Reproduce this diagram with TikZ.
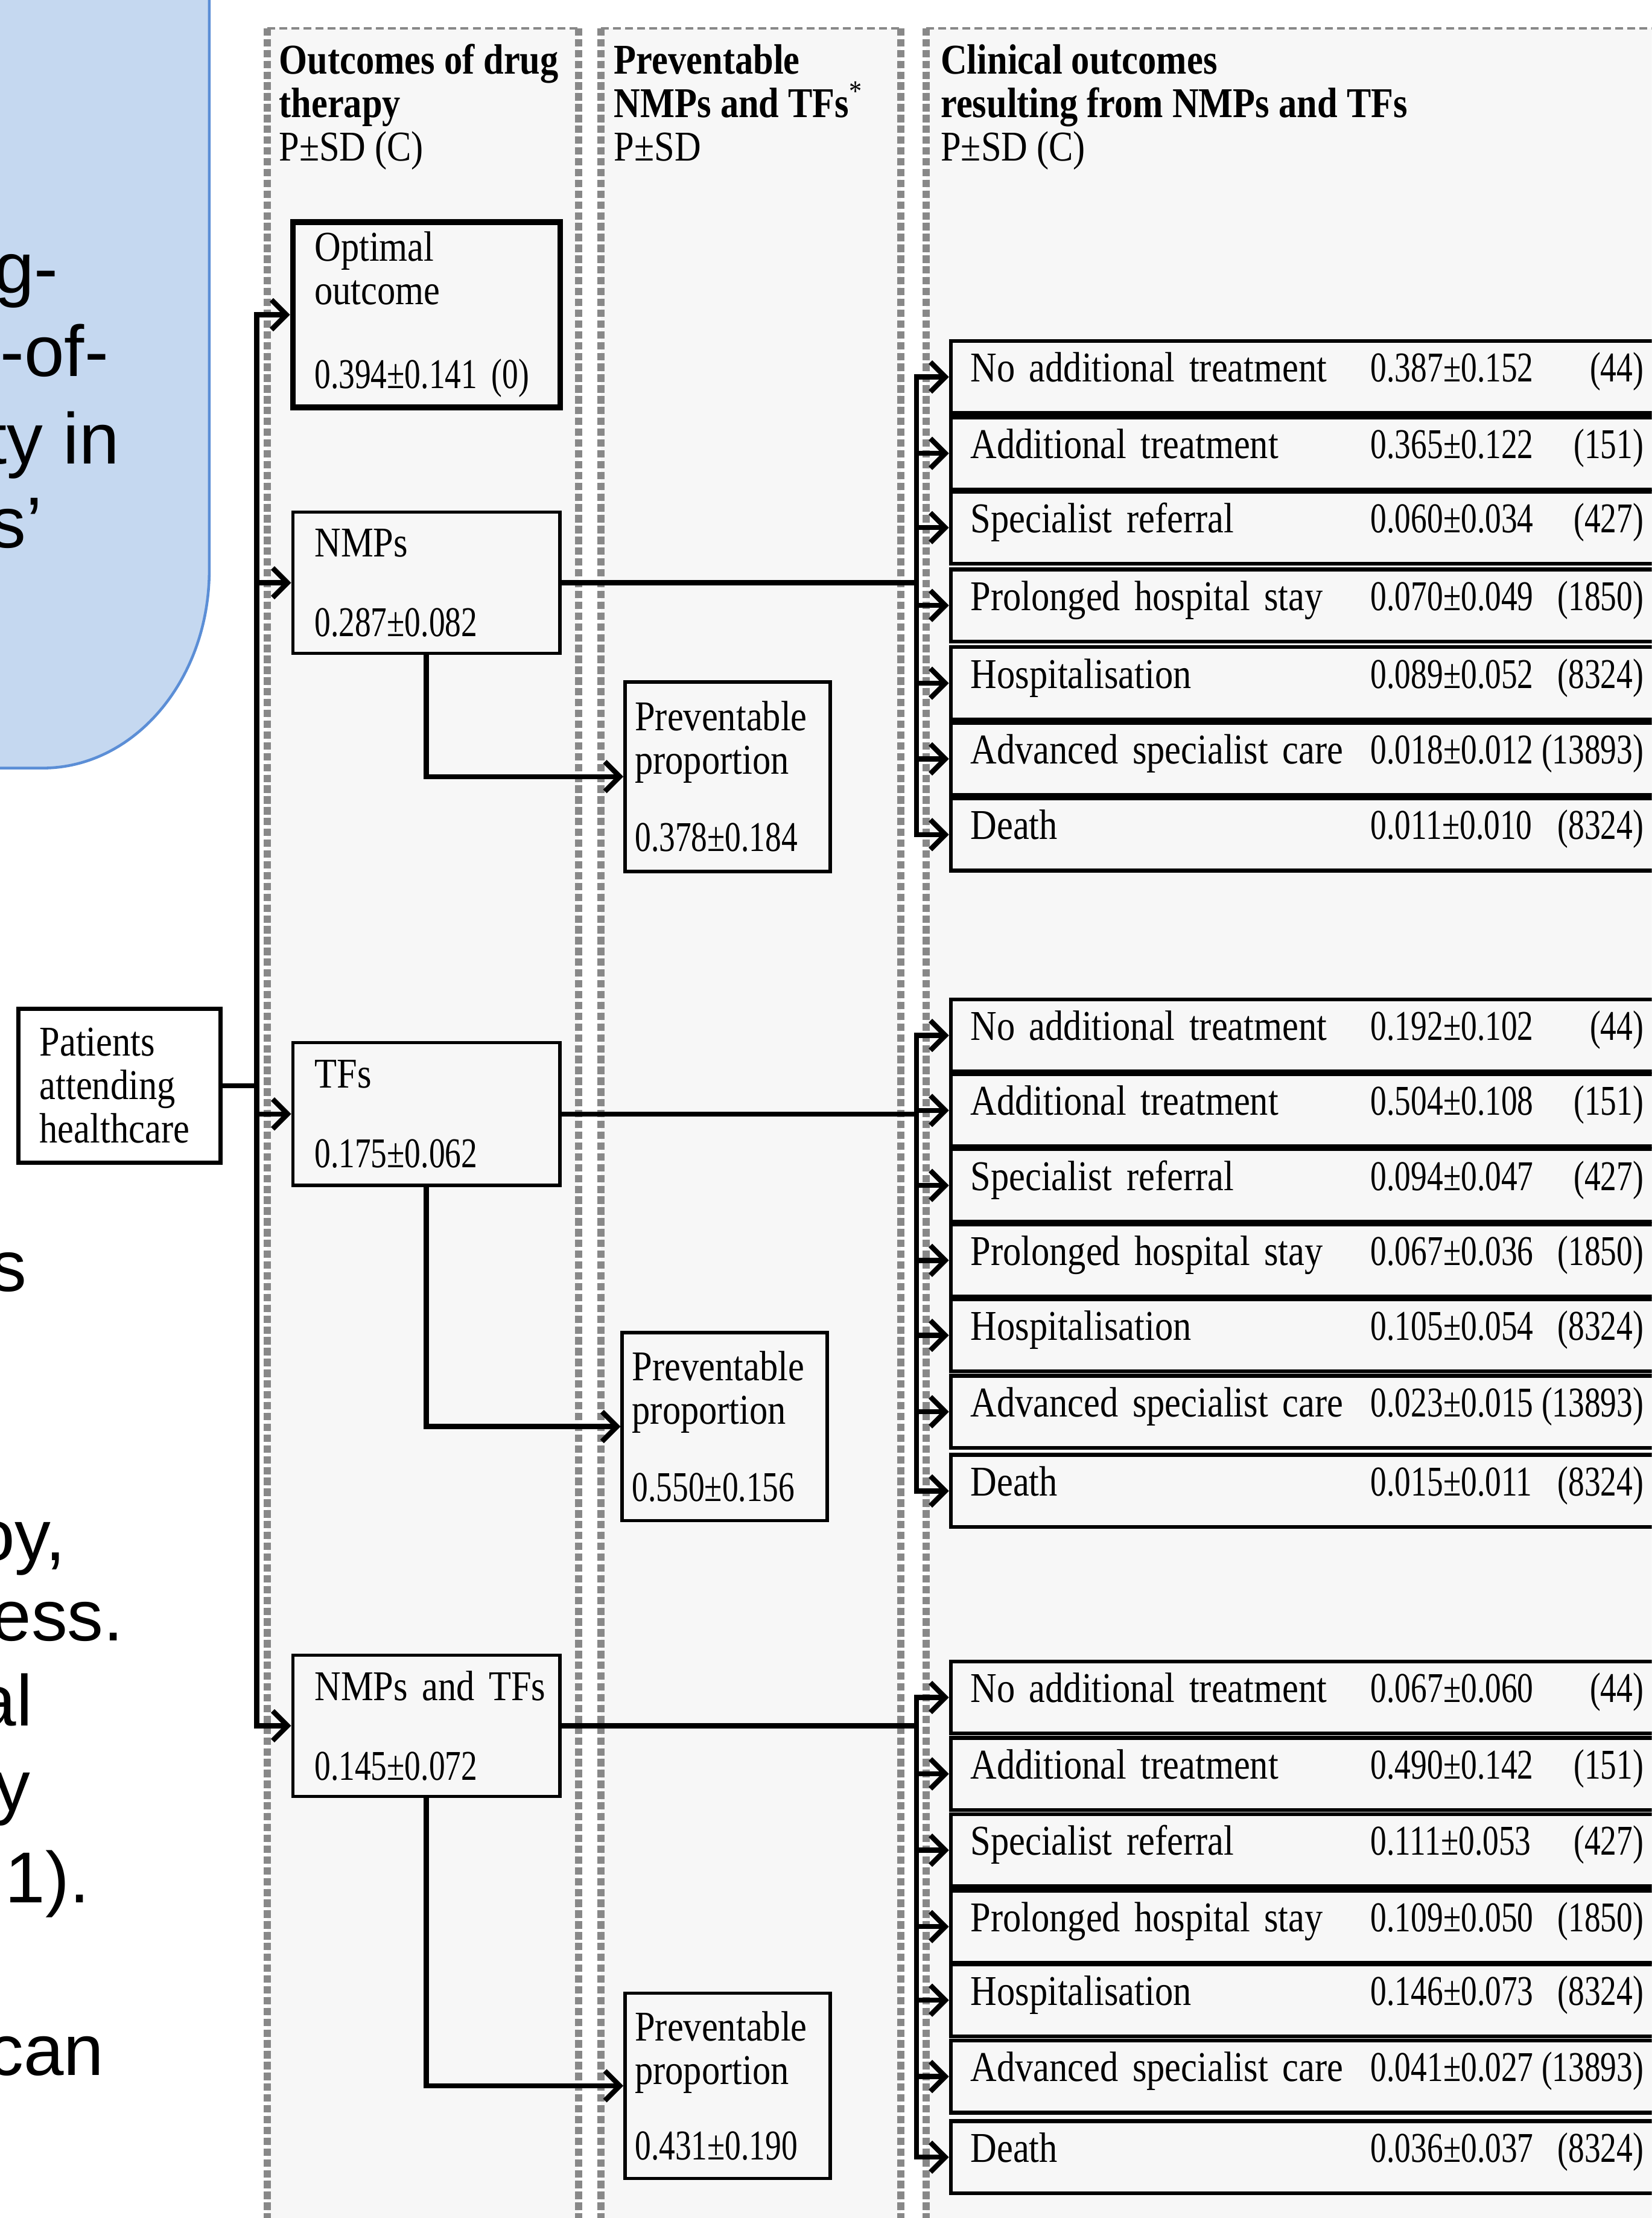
\documentclass[tikz,border=0pt]{standalone}
\usepackage{fontspec}
\setmainfont{Liberation Serif}[FakeStretch=0.86]
\newfontfamily\numfam{Liberation Serif}[FakeStretch=0.76]
\newfontfamily\slidefam{Liberation Sans}
\usetikzlibrary{arrows.meta}
\definecolor{panelgray}{HTML}{F7F7F7}
\definecolor{rimgray}{HTML}{888888}
\definecolor{slideblue}{HTML}{C5D8F0}
\definecolor{slideedge}{HTML}{5B8ED6}

\begin{document}
\begin{tikzpicture}[x=0.2344mm, y=-0.2344mm,
  every node/.style={font=\fontsize{20}{20.5}\selectfont},
  slidetext/.style={anchor=base west, inner sep=0pt, font=\slidefam\fontsize{34}{38}\selectfont},
  rim/.style={draw=rimgray, line width=3.4pt, dash pattern=on 3.5pt off 1.6pt},
  rimtop/.style={draw=rimgray, line width=1.3pt, dash pattern=on 3.7pt off 2pt},
  head/.style={anchor=north west, inner sep=0pt, align=left},
  stage/.style={draw, line width=1.5pt, fill=panelgray, inner xsep=3.63mm, inner ysep=0pt, text width=37.04mm, align=left},
  prev/.style={draw, line width=1.6pt, fill=panelgray, inner xsep=1.64mm, inner ysep=0pt, text width=30.71mm, align=left},
  outbox/.style={draw, line width=1.8pt, fill=panelgray, anchor=west, inner xsep=3.28mm, inner ysep=0pt, text width=111.57mm, minimum height=11.95mm, text height=0.66em, text depth=0.2em, align=left},
  wire/.style={line width=2.4pt},
  link/.style={line width=2.4pt, -{Straight Barb[length=7pt,width=14pt]}}]

\useasboundingbox (0,0) rectangle (1168,1568);
\clip (0,0) rectangle (1168,1568);

\draw[fill=slideblue, draw=slideedge, line width=1.3pt] (-5,-5) -- (148,-5) -- (148,403)
  arc[start angle=0, end angle=90, x radius=118, y radius=140] -- (-5,543) -- cycle;
\node[slidetext] (sa) at (-4.5,207) {g-};
\node[slidetext] (sb) at (0,266) {-of-};
\node[slidetext] (sc) at (-9.4,328) {ty in};
\node[slidetext] (sd) at (-7.3,387) {s’};
\node[slidetext] (se) at (-7,913) {s};
\node[slidetext] (sf) at (-18,1103) {oy,};
\node[slidetext] (sg) at (-6.4,1160) {ess.};
\node[slidetext] (sh) at (-17,1220) {al};
\node[slidetext] (si) at (-4.5,1280) {y};
\node[slidetext] (sj) at (3.5,1345) {1).};
\node[slidetext] (sk) at (-9,1467) {can};

\foreach \l/\r in {189/409, 425/637, 655/1200} {
  \fill[panelgray] (\l,20) rectangle (\r,1600);
  \draw[rimtop] (\l,20) -- (\r,20);
  \draw[rim] (\l,20) -- (\l,1600);
  \draw[rim] (\r,20) -- (\r,1600);
}

\node[head] (hd1) at (197,31) {\textbf{Outcomes of drug}\\\textbf{therapy}\\P±SD (C)};
\node[head] (hd2) at (434,31) {\textbf{Preventable}\\\textbf{NMPs and TFs}\textsuperscript{*}\\P±SD};
\node[head] (hd3) at (665,31) {\textbf{Clinical outcomes}\\\textbf{resulting from NMPs and TFs}\\P±SD (C)};

\node[stage, line width=2.6pt, minimum height=30.71mm] (opt) at (301.5,222.5) {Optimal\\outcome\\[19pt]{\numfam 0.394±0.141 (0)}};
\node[stage, minimum height=23.44mm] (nmp) at (301.5,412) {NMPs\\[17pt]{\numfam 0.287±0.082}};
\node[stage, minimum height=23.67mm] (tf) at (301.5,787.5) {TFs\\[17pt]{\numfam 0.175±0.062}};
\node[stage, minimum height=23.44mm] (both) at (301.5,1220) {\mbox{NMPs and TFs}\\[17pt]{\numfam 0.145±0.072}};
\node[stage, line width=2pt, fill=white, inner xsep=3.52mm, text width=26.48mm, minimum height=25.55mm] (pat) at (84.5,767.5) {Patients\\attending\\healthcare};

\node[prev, minimum height=31.41mm] (pvA) at (514.5,549) {Preventable\\proportion\\[16pt]{\numfam 0.378±0.184}};
\node[prev, minimum height=31.18mm] (pvB) at (512.5,1008.5) {Preventable\\proportion\\[16pt]{\numfam 0.550±0.156}};
\node[prev, minimum height=30.71mm] (pvC) at (514.5,1474.5) {Preventable\\proportion\\[15pt]{\numfam 0.431±0.190}};

\foreach \y/\lab/\val/\n [count=\i] in {266.5/No additional treatment/0.387±0.152/44,
  320.5/Additional treatment/0.365±0.122/151, 373/Specialist referral/0.060±0.034/427,
  428/Prolonged hospital stay/0.070±0.049/1850, 483/Hospitalisation/0.089±0.052/8324,
  536.5/Advanced specialist care/0.018±0.012/13893, 590/Death/0.011±0.010/8324}
  \node[outbox] (oa\i) at (671,\y) {\makebox[66.33mm][l]{\lab}{\numfam\val}\hfill{\numfam(\n)}};
\foreach \y/\lab/\val/\n [count=\i] in {732/No additional treatment/0.192±0.102/44,
  785/Additional treatment/0.504±0.108/151, 838/Specialist referral/0.094±0.047/427,
  891/Prolonged hospital stay/0.067±0.036/1850, 944/Hospitalisation/0.105±0.054/8324,
  998/Advanced specialist care/0.023±0.015/13893, 1054/Death/0.015±0.011/8324}
  \node[outbox] (ob\i) at (671,\y) {\makebox[66.33mm][l]{\lab}{\numfam\val}\hfill{\numfam(\n)}};
\foreach \y/\lab/\val/\n [count=\i] in {1200/No additional treatment/0.067±0.060/44,
  1254/Additional treatment/0.490±0.142/151, 1308/Specialist referral/0.111±0.053/427,
  1362/Prolonged hospital stay/0.109±0.050/1850, 1414/Hospitalisation/0.146±0.073/8324,
  1468/Advanced specialist care/0.041±0.027/13893, 1525/Death/0.036±0.037/8324}
  \node[outbox] (oc\i) at (671,\y) {\makebox[66.33mm][l]{\lab}{\numfam\val}\hfill{\numfam(\n)}};

\coordinate (split) at (181.5,767.5);
\coordinate (hubA) at (648,412);
\coordinate (hubB) at (648,787.5);
\coordinate (hubC) at (648,1220);

\draw[wire] (pat.east) -- (split);
\foreach \b in {opt,nmp,tf,both}
  \draw[link] (split) |- (\b.west);
\draw[link] (nmp.south) |- (pvA.west);
\draw[link] (tf.south) |- (pvB.west);
\draw[link] (both.south) |- (pvC.west);
\foreach \i in {1,...,7} {
  \draw[link] (nmp.east) -- (hubA) |- (oa\i.west);
  \draw[link] (tf.east) -- (hubB) |- (ob\i.west);
  \draw[link] (both.east) -- (hubC) |- (oc\i.west);
}
\end{tikzpicture}
\end{document}
